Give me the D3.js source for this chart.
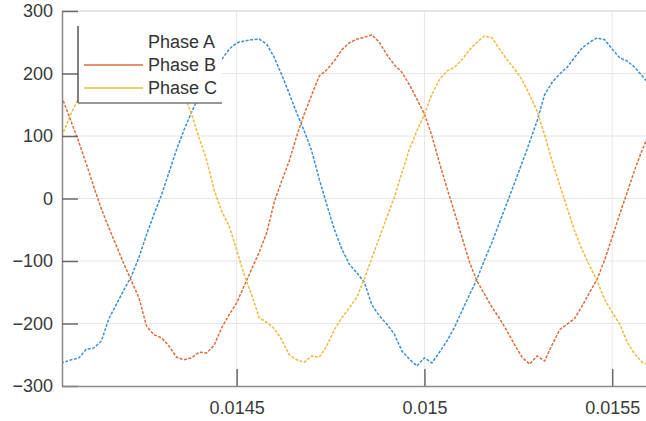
<!DOCTYPE html>
<html>
<head>
<meta charset="utf-8">
<script src="https://cdn.jsdelivr.net/npm/d3@7"></script>
<style>
  body { margin: 0; background: #fff; }
  text { font-family: "Liberation Sans", Arial, sans-serif; }
</style>
</head>
<body>
<svg width="646" height="421"></svg>
<script>
// sample times (s)
var times = [0.01402,0.01404,0.01406,0.01408,0.01410,0.01412,0.01414,0.01416,0.01418,0.01420,
  0.01422,0.01424,0.01426,0.01428,0.01430,0.01432,0.01434,0.01436,0.01438,0.01440,
  0.01442,0.01444,0.01446,0.01448,0.01450,0.01452,0.01454,0.01456,0.01458,0.01460,
  0.01462,0.01464,0.01466,0.01468,0.01470,0.01472,0.01474,0.01476,0.01478,0.01480,
  0.01482,0.01484,0.01486,0.01488,0.01490,0.01492,0.01494,0.01496,0.01498,0.01500,
  0.01502,0.01504,0.01506,0.01508,0.01510,0.01512,0.01514,0.01516,0.01518,0.01520,
  0.01522,0.01524,0.01526,0.01528,0.01530,0.01532,0.01534,0.01536,0.01538,0.01540,
  0.01542,0.01544,0.01546,0.01548,0.01550,0.01552,0.01554,0.01556,0.01558,0.01560];

var phaseA = [-263,-262,-258,-255,-241,-239,-228,-192,-169,-146,-124,
  -94,-58,-25,6,42,78,110,138,164,182,
  202,222,239,249,252,254,255,247,226,198,
  168,137,108,76,31,-10,-49,-81,-105,-119,
  -134,-170,-188,-201,-217,-244,-257,-268,-255,-263,
  -246,-228,-206,-180,-154,-129,-98,-70,-38,-7,
  25,57,90,124,166,186,199,210,226,241,
  250,257,254,239,225,220,210,196,182];

var phaseB = [183,154,122,90,55,18,-17,-47,-76,-105,-132,
  -159,-204,-218,-223,-236,-254,-258,-255,-246,-247,
  -235,-207,-186,-167,-140,-113,-86,-55,-6,28,
  60,100,135,166,196,206,220,238,249,255,
  258,262,250,230,214,202,182,159,135,100,
  57,17,-22,-62,-102,-132,-153,-174,-192,-212,
  -234,-254,-265,-252,-260,-234,-210,-201,-192,-172,
  -150,-129,-98,-62,-25,10,46,78,106];

var phaseC = [80,108,137,161,190,215,234,246,254,258,260,
  260,257,246,230,209,190,166,135,97,62,
  14,-20,-44,-82,-122,-154,-191,-198,-208,-226,
  -250,-258,-262,-252,-254,-236,-210,-191,-175,-158,
  -129,-95,-63,-30,2,41,79,108,135,167,
  190,204,210,222,238,250,260,257,239,222,
  207,190,166,140,102,60,22,-15,-52,-82,
  -108,-132,-162,-182,-201,-230,-249,-262,-266];

var seriesNames = ["Phase A", "Phase B", "Phase C"];
var seriesColors = ["#3d8fd1", "#de6c3c", "#eeba40"];
var xTicks = [0.0145, 0.015, 0.0155];
var yTicks = [-300, -200, -100, 0, 100, 200, 300];

var plotL = 62, plotR = 646, plotT = 11, plotB = 386;

var x = d3.scaleLinear().domain([0.014035, 0.01559]).range([plotL, plotR]);
var y = d3.scaleLinear().domain([-300, 300]).range([plotB, plotT]);

var svg = d3.select("svg");

svg.append("defs").append("clipPath").attr("id", "plot")
  .append("rect").attr("x", plotL).attr("y", plotT)
  .attr("width", plotR - plotL).attr("height", plotB - plotT);

// grid
svg.append("g").selectAll("line").data(yTicks.slice(1, -1)).enter().append("line")
  .attr("x1", plotL).attr("x2", plotR)
  .attr("y1", function(d) { return y(d); }).attr("y2", function(d) { return y(d); })
  .attr("stroke", "#e6e6e6").attr("stroke-width", 1);
svg.append("g").selectAll("line").data(xTicks).enter().append("line")
  .attr("y1", plotT).attr("y2", plotB)
  .attr("x1", function(d) { return x(d); }).attr("x2", function(d) { return x(d); })
  .attr("stroke", "#e6e6e6").attr("stroke-width", 1);

// top edge
svg.append("line").attr("x1", plotL).attr("x2", plotR).attr("y1", plotT).attr("y2", plotT)
  .attr("stroke", "#dcdcdc").attr("stroke-width", 1.5);

// waveforms
var allSeries = [phaseA, phaseB, phaseC];
var line = d3.line()
  .x(function(d, i) { return x(times[i]); })
  .y(function(d) { return y(d); });

svg.append("g").attr("clip-path", "url(#plot)")
  .selectAll("path").data(allSeries).enter().append("path")
  .attr("d", line)
  .attr("fill", "none")
  .attr("stroke", function(d, i) { return seriesColors[i]; })
  .attr("stroke-width", 1.5)
  .attr("stroke-dasharray", "3,1.5");

// axes
var yAxis = svg.append("g").attr("transform", "translate(" + plotL + ",0)")
  .call(d3.axisLeft(y).tickValues(yTicks).tickSizeInner(-16).tickSizeOuter(0));
var xAxis = svg.append("g").attr("transform", "translate(0," + plotB + ")")
  .call(d3.axisBottom(x).tickValues(xTicks).tickSizeInner(-17).tickSizeOuter(0)
    .tickFormat(function(d) { return String(d); }));

[yAxis, xAxis].forEach(function(a) {
  a.select(".domain").attr("stroke", "#8a8a8a").attr("stroke-width", 1.5);
  a.selectAll(".tick line").attr("stroke", "#6a6a6a").attr("stroke-width", 1.5);
  a.selectAll(".tick text").attr("fill", "#3a3a3a").style("font-size", "18px")
    .style("font-family", "'Liberation Sans', Arial, sans-serif");
});
xAxis.selectAll(".tick text").attr("dy", "0.35em").attr("y", 22);
yAxis.selectAll(".tick text").attr("x", -9);

// legend
var lg = svg.append("g");
lg.append("rect").attr("x", 78).attr("y", 26).attr("width", 144).attr("height", 77).attr("fill", "#fff");
lg.append("line").attr("x1", 78).attr("x2", 78).attr("y1", 26).attr("y2", 103)
  .attr("stroke", "#555").attr("stroke-width", 1.5);
lg.append("line").attr("x1", 78).attr("x2", 222).attr("y1", 103).attr("y2", 103)
  .attr("stroke", "#777").attr("stroke-width", 1.5);

var rows = lg.selectAll("g.row").data(seriesNames).enter().append("g")
  .attr("transform", function(d, i) { return "translate(0," + (42 + i * 23) + ")"; });
rows.filter(function(d, i) { return i > 0; }).append("line")
  .attr("x1", 84).attr("x2", 143).attr("y1", 0).attr("y2", 0)
  .attr("stroke", function(d) { return seriesColors[seriesNames.indexOf(d)]; })
  .attr("stroke-width", 1.5);
rows.append("text").attr("x", 148).attr("y", 0).attr("dy", "0.35em")
  .attr("fill", "#333").style("font-size", "18px")
  .text(function(d) { return d; });
</script>
</body>
</html>
